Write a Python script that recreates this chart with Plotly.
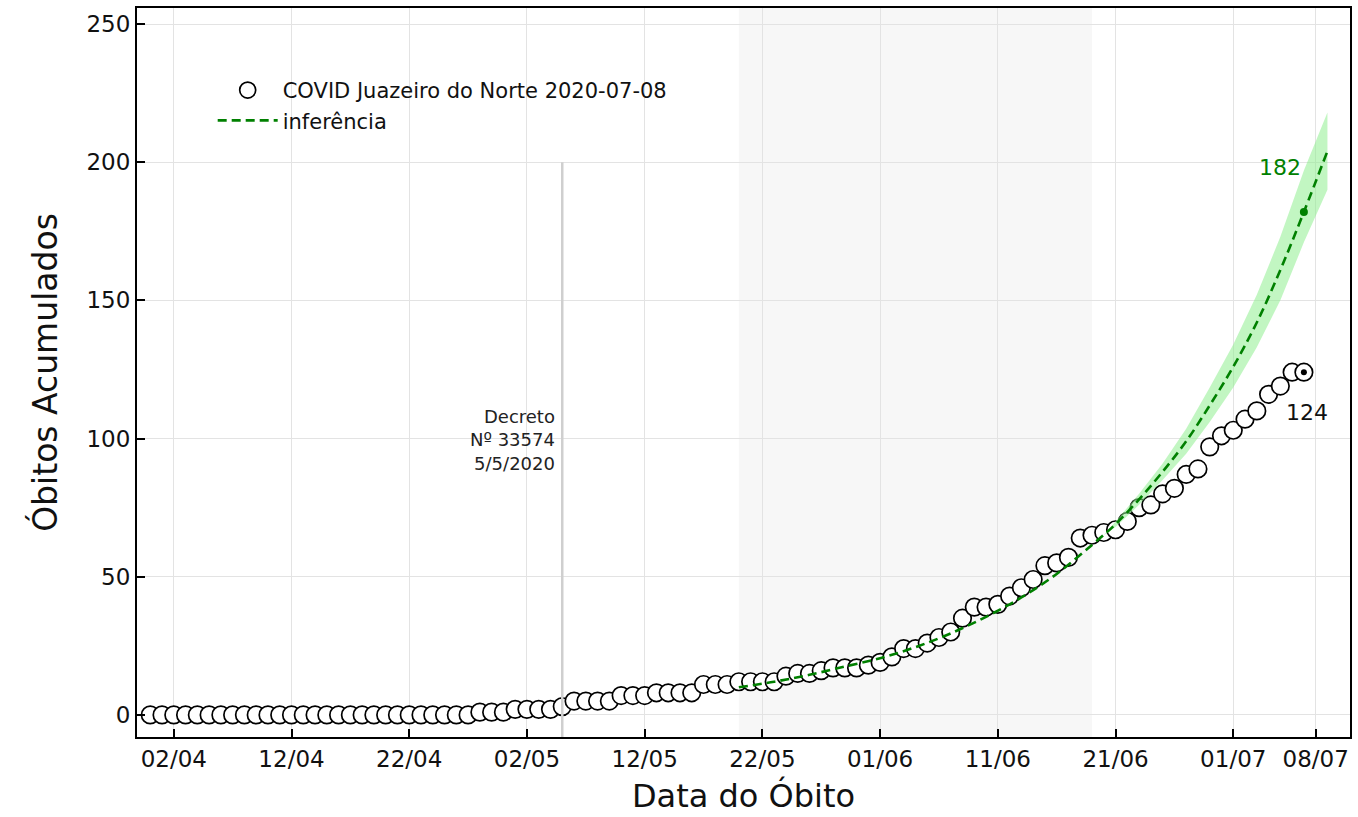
import plotly.graph_objects as go
import pandas as pd

# ---------------- data ----------------
obs_dates = pd.date_range("2020-03-31", "2020-07-07", freq="D")
deaths = (
    [0] * 28 +                       # 31/03 .. 27/04
    [1, 1, 1] +                      # 28/04 .. 30/04
    [2, 2, 2, 2, 3, 5, 5, 5, 5, 7, 7, 7, 8, 8, 8, 8, 11, 11, 11, 12,
     12, 12, 12, 14, 15, 15, 16, 17, 17, 17, 18] +                 # May
    [19, 21, 24, 24, 26, 28, 30, 35, 39, 39, 40, 43, 46, 49, 54,
     55, 57, 64, 65, 66, 67, 70, 75, 76, 80, 82, 87, 89, 97, 101] +  # June
    [103, 107, 110, 116, 119, 124, 124]                            # July
)

inf_dates = ["2020-05-20", "2020-05-23", "2020-05-26", "2020-05-29", "2020-06-01",
             "2020-06-04", "2020-06-07", "2020-06-10", "2020-06-13", "2020-06-16",
             "2020-06-19", "2020-06-21", "2020-06-23", "2020-06-25", "2020-06-27",
             "2020-06-29", "2020-07-01", "2020-07-03", "2020-07-05", "2020-07-07",
             "2020-07-09"]
inf_values = [10, 12, 14.5, 17.5, 20.5, 24.5, 29.5, 35.5, 42.5, 51, 61.5, 69, 78, 88,
              99, 112, 126, 142, 161, 182, 204]

band_dates = ["2020-06-20", "2020-06-21", "2020-06-23", "2020-06-25", "2020-06-27",
              "2020-06-29", "2020-07-01", "2020-07-03", "2020-07-05", "2020-07-07",
              "2020-07-09"]
band_low = [65, 68, 76, 85, 94.5, 106, 118.5, 133, 150, 171, 190]
band_high = [65, 70, 80, 91, 103.5, 118.5, 134, 152, 173, 197, 218]

last_date = "2020-07-07"
last_obs = 124
pred_last = 182

decree_date = "2020-05-05"
shade_start, shade_end = "2020-05-20", "2020-06-19"

tick_dates = ["2020-04-02", "2020-04-12", "2020-04-22", "2020-05-02", "2020-05-12",
              "2020-05-22", "2020-06-01", "2020-06-11", "2020-06-21", "2020-07-01",
              "2020-07-08"]
tick_text = ["02/04", "12/04", "22/04", "02/05", "12/05", "22/05", "01/06", "11/06",
             "21/06", "01/07", "08/07"]
y_ticks = [0, 50, 100, 150, 200, 250]

FONT = "DejaVu Sans"
GREEN = "#008000"

fig = go.Figure()

fig.add_trace(go.Scatter(
    x=obs_dates, y=deaths, mode="markers",
    name="COVID Juazeiro do Norte 2020-07-08",
    marker=dict(size=17.5, color="white", line=dict(color="black", width=1.7)),
))
# band
fig.add_trace(go.Scatter(x=band_dates, y=band_low, mode="lines",
                         line=dict(width=0, color="rgba(0,0,0,0)"),
                         showlegend=False, hoverinfo="skip"))
fig.add_trace(go.Scatter(x=band_dates, y=band_high, mode="lines",
                         line=dict(width=0, color="rgba(0,0,0,0)"),
                         fill="tonexty", fillcolor="rgba(144,238,144,0.55)",
                         showlegend=False, hoverinfo="skip"))
fig.add_trace(go.Scatter(
    x=inf_dates, y=inf_values, mode="lines", name="inferência",
    line=dict(color=GREEN, width=2.6, dash="9px,5px", shape="spline"),
))
fig.add_trace(go.Scatter(x=[last_date], y=[pred_last], mode="markers",
                         marker=dict(size=8, color=GREEN), showlegend=False))
fig.add_trace(go.Scatter(x=[last_date], y=[last_obs], mode="markers",
                         marker=dict(size=6, color="black"), showlegend=False))

fig.add_shape(type="rect", xref="x", yref="paper", x0=shade_start, x1=shade_end,
              y0=0, y1=1, fillcolor="#f7f7f7", line=dict(width=0), layer="below")
fig.add_shape(type="line", xref="x", yref="y", x0=decree_date, x1=decree_date,
              y0=-8, y1=200, line=dict(color="#cfcfcf", width=2.5), layer="above")

fig.add_annotation(x="2020-05-04 14:00", y=99.5, xref="x", yref="y",
                   text="Decreto<br>Nº 33574<br>5/5/2020", showarrow=False,
                   xanchor="right", yanchor="middle", align="right",
                   font=dict(family=FONT, size=18, color="#222222"))
fig.add_annotation(x="2020-07-05 00:00", y=198, xref="x", yref="y", text="182",
                   showarrow=False, font=dict(family=FONT, size=22, color=GREEN))
fig.add_annotation(x="2020-07-07 07:00", y=109.6, xref="x", yref="y", text="124",
                   showarrow=False, font=dict(family=FONT, size=22, color="#111111"))

fig.update_layout(
    width=1358, height=817,
    margin=dict(l=137, r=6, t=8, b=80),
    paper_bgcolor="white", plot_bgcolor="white",
    font=dict(family=FONT, color="#111111"),
    showlegend=True,
    legend=dict(x=0.0624, y=0.915, xanchor="left", yanchor="top",
                traceorder="normal", itemwidth=60,
                bgcolor="rgba(0,0,0,0)", font=dict(family=FONT, size=21),
                tracegroupgap=0),
)
fig.update_xaxes(
    range=["2020-03-29 21:00", "2020-07-10 22:00"],
    tickmode="array", tickvals=tick_dates, ticktext=tick_text,
    ticks="inside", ticklen=8, tickwidth=1.5, tickcolor="black",
    tickfont=dict(family=FONT, size=23, color="#111111"),
    showgrid=True, gridcolor="#e3e3e3", gridwidth=1,
    showline=True, linecolor="black", linewidth=2, mirror=True,
    zeroline=False,
    title=dict(text="Data do Óbito", font=dict(family=FONT, size=32, color="#111111"),
               standoff=14),
)
fig.update_yaxes(
    range=[-8, 255.8],
    tickmode="array", tickvals=y_ticks,
    ticks="inside", ticklen=8, tickwidth=1.5, tickcolor="black",
    tickfont=dict(family=FONT, size=23, color="#111111"),
    showgrid=True, gridcolor="#e3e3e3", gridwidth=1,
    showline=True, linecolor="black", linewidth=2, mirror=True,
    zeroline=False,
    title=dict(text="Óbitos Acumulados", font=dict(family=FONT, size=33, color="#111111"),
               standoff=19),
)

fig.write_html("out.html")
